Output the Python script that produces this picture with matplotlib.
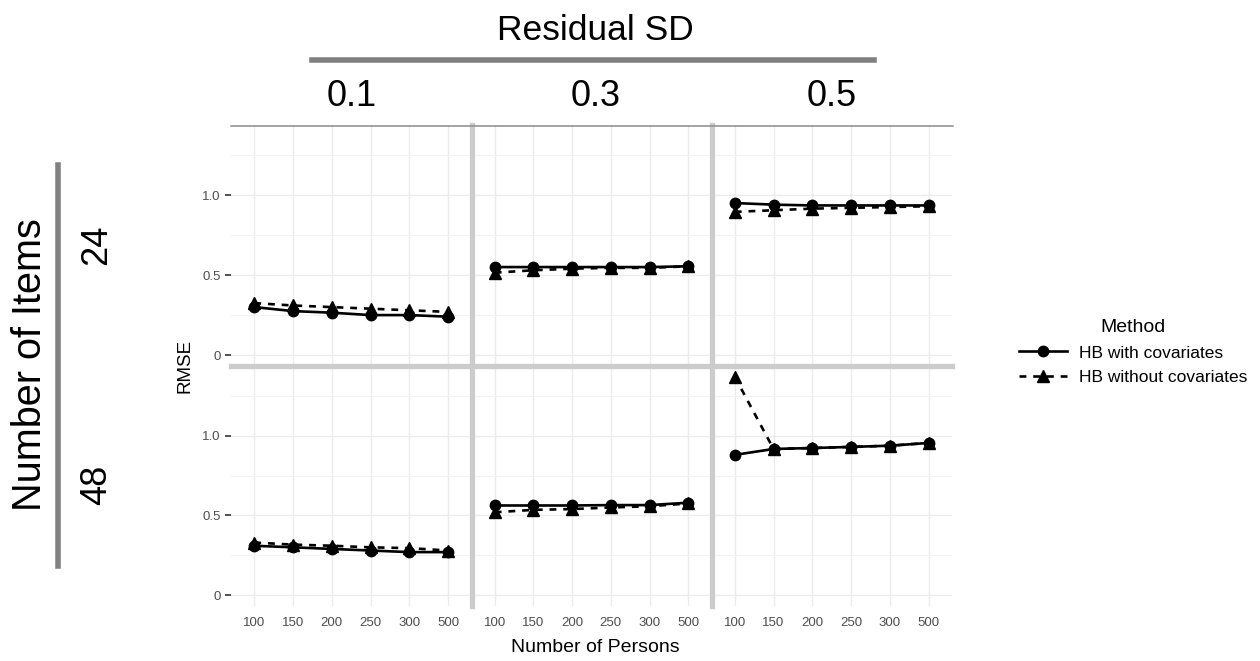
import matplotlib
matplotlib.use("Agg")
import matplotlib.pyplot as plt
from matplotlib.lines import Line2D

plt.rcParams['font.family'] = ['Liberation Sans', 'DejaVu Sans']

persons = ['100', '150', '200', '250', '300', '500']
sd_levels = ['0.1', '0.3', '0.5']
n_items = ['24', '48']

# RMSE, one list per residual SD level
with_cov_24 = [[0.30, 0.275, 0.265, 0.25, 0.25, 0.24],
               [0.55, 0.55, 0.55, 0.55, 0.55, 0.555],
               [0.95, 0.94, 0.935, 0.935, 0.935, 0.935]]
without_cov_24 = [[0.325, 0.31, 0.30, 0.29, 0.28, 0.27],
                  [0.515, 0.53, 0.54, 0.545, 0.545, 0.555],
                  [0.895, 0.905, 0.915, 0.92, 0.925, 0.93]]
with_cov_48 = [[0.31, 0.30, 0.29, 0.28, 0.27, 0.27],
               [0.5625, 0.5625, 0.5625, 0.565, 0.565, 0.58],
               [0.88, 0.917, 0.923, 0.93, 0.9375, 0.955]]
without_cov_48 = [[0.33, 0.317, 0.31, 0.30, 0.295, 0.28],
                  [0.52, 0.535, 0.54, 0.55, 0.558, 0.575],
                  [1.37, 0.917, 0.923, 0.93, 0.9375, 0.955]]

with_cov = [with_cov_24, with_cov_48]
without_cov = [without_cov_24, without_cov_48]

W, H = 1260, 661
fig = plt.figure(figsize=(12.6, 6.61), dpi=100)


def fx(x):
    return x / W


def fy(y):
    return 1 - y / H


col_edges = [231, 471.5, 711.5, 952]
row_edges = [125, 366, 606]
x = list(range(len(persons)))

for r in range(2):
    for c in range(3):
        x0, x1 = col_edges[c], col_edges[c + 1]
        y0, y1 = row_edges[r], row_edges[r + 1]
        ax = fig.add_axes([fx(x0), fy(y1), fx(x1) - fx(x0), fy(y0) - fy(y1)])
        ax.plot(x, without_cov[r][c], color='black', lw=1.9, ls=(0, (2.6, 2.6)),
                marker='^', ms=8.5, zorder=3)
        ax.plot(x, with_cov[r][c], color='black', lw=1.9, ls='-',
                marker='o', ms=7.5, zorder=4)
        ax.set_xlim(-0.6, 5.6)
        ax.set_ylim(-0.068, 1.4375)
        ax.set_yticks([0, 0.5, 1.0])
        ax.set_yticks([0.25, 0.75, 1.25], minor=True)
        ax.set_xticks(x)
        ax.grid(True, which='major', color='#ebebeb', lw=1.0)
        ax.grid(True, which='minor', axis='y', color='#f2f2f2', lw=0.7)
        ax.set_axisbelow(True)
        for s in ax.spines.values():
            s.set_visible(False)
        ax.tick_params(axis='y', which='minor', length=0)
        ax.tick_params(axis='x', length=0, pad=8, labelsize=9.5,
                       labelcolor='#4d4d4d')
        ax.tick_params(axis='y', length=4, width=1.2, color='#333333',
                       labelsize=9.5, labelcolor='#4d4d4d')
        if c == 0:
            ax.set_yticklabels(['0', '0.5', '1.0'])
        else:
            ax.set_yticklabels([])
            ax.tick_params(axis='y', length=0)
        if r == 1:
            ax.set_xticklabels(persons)
        else:
            ax.set_xticklabels([])

# panel separators
sep = '#cccccc'
for xv in col_edges[1:3]:
    fig.add_artist(Line2D([fx(xv), fx(xv)], [fy(125), fy(606)], color=sep, lw=3.8))
fig.add_artist(Line2D([fx(231), fx(952)], [fy(366), fy(366)], color=sep, lw=3.8))
fig.add_artist(Line2D([fx(231), fx(953)], [fy(125.5), fy(125.5)], color='#8c8c8c', lw=1.1))

# column strip
fig.text(fx(595), fy(31), 'Residual SD', fontsize=25.5, ha='center', va='center')
fig.add_artist(Line2D([fx(312), fx(874)], [fy(60), fy(60)], color='#808080', lw=4))
for c, lab in enumerate(sd_levels):
    cx = [352, 596, 832][c]
    fig.text(fx(cx), fy(97), lab, fontsize=26, ha='center', va='center')

# row strip
fig.text(fx(30), fy(365), 'Number of Items', fontsize=28.5, rotation=90,
         ha='center', va='center')
fig.add_artist(Line2D([fx(58), fx(58)], [fy(165), fy(566)], color='#808080', lw=4))
for r, lab in enumerate(n_items):
    cy = [245, 485][r]
    fig.text(fx(97), fy(cy), lab, fontsize=26, rotation=90, ha='center', va='center')

fig.text(fx(185), fy(366), 'RMSE', fontsize=13.5, rotation=90, ha='center', va='center')
fig.text(fx(595), fy(647), 'Number of Persons', fontsize=14, ha='center', va='center')

handles = [Line2D([], [], color='black', lw=1.9, marker='o', ms=7.5),
           Line2D([], [], color='black', lw=1.9, ls=(0, (2.6, 2.6)), marker='^', ms=8.5)]
leg = fig.legend(handles, ['HB with covariates', 'HB without covariates'],
                 title='Method', loc='center left',
                 bbox_to_anchor=(fx(1003), fy(352)), frameon=False,
                 fontsize=12.5, title_fontsize=14, handlelength=2.8,
                 handletextpad=0.7, labelspacing=0.55)

fig.savefig('out.png', dpi=100)
